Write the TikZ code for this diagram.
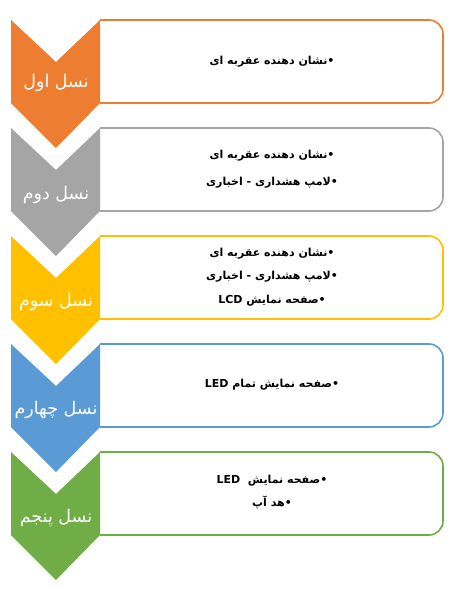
\documentclass[tikz,border=0pt]{standalone}
\usepackage{fontspec}
\newfontfamily\arabicfont[Script=Arabic]{DejaVu Sans}
\TeXXeTstate=1
\definecolor{genorange}{HTML}{ED7D31}
\definecolor{gengray}{HTML}{A5A5A5}
\definecolor{genyellow}{HTML}{FFC000}
\definecolor{genblue}{HTML}{5B9BD5}
\definecolor{gengreen}{HTML}{70AD47}
\begin{document}
\begin{tikzpicture}[x=1pt,y=-1pt,
  genbox/.style={draw=#1,line width=1.6pt,fill=white,rounded corners=14pt},
  genlabel/.style={text=white,font=\arabicfont\fontsize{17.5}{20}\selectfont,inner sep=0pt},
  genlist/.style={align=center,font=\arabicfont\bfseries\fontsize{11}{23.5}\selectfont,inner sep=0pt}]
\useasboundingbox (0,0) rectangle (453,589);
\def\x{11}
% first generation
\def\y{20}
\draw[genbox=genorange] (\x + 89, \y) -- (\x + 432, \y) -- (\x + 432, \y + 83) -- (\x + 89, \y + 83);
\fill[genorange] (\x, \y) -- (\x + 45, \y + 42) -- (\x + 89, \y) -- (\x + 89, \y + 83) -- (\x + 45, \y + 128) -- (\x, \y + 83) -- cycle;
\node[genlabel] (gen1) at (\x + 45, \y + 63) {\beginR نسل اول\endR};
\node[genlist] (list1) at (\x + 261, \y + 42) {\beginR •نشان دهنده عقربه ای\endR};
% second generation
\def\y{128}
\draw[genbox=gengray] (\x + 89, \y) -- (\x + 432, \y) -- (\x + 432, \y + 83) -- (\x + 89, \y + 83);
\fill[gengray] (\x, \y) -- (\x + 45, \y + 42) -- (\x + 89, \y) -- (\x + 89, \y + 83) -- (\x + 45, \y + 128) -- (\x, \y + 83) -- cycle;
\node[genlabel] (gen2) at (\x + 45, \y + 67) {\beginR نسل دوم\endR};
\node[genlist] (list2) at (\x + 261, \y + 41) {\beginR •نشان دهنده عقربه ای\endR\\[4pt]
\beginR •لامپ هشداری - اخباری\endR};
% third generation
\def\y{236}
\draw[genbox=genyellow] (\x + 89, \y) -- (\x + 432, \y) -- (\x + 432, \y + 83) -- (\x + 89, \y + 83);
\fill[genyellow] (\x, \y) -- (\x + 45, \y + 42) -- (\x + 89, \y) -- (\x + 89, \y + 83) -- (\x + 45, \y + 128) -- (\x, \y + 83) -- cycle;
\node[genlabel] (gen3) at (\x + 45, \y + 66) {\beginR نسل سوم\endR};
\node[genlist] (list3) at (\x + 261, \y + 41) {\beginR •نشان دهنده عقربه ای\endR\\
\beginR •لامپ هشداری - اخباری\endR\\
\beginR •صفحه نمایش \beginL LCD\endL\endR};
% fourth generation
\def\y{344}
\draw[genbox=genblue] (\x + 89, \y) -- (\x + 432, \y) -- (\x + 432, \y + 83) -- (\x + 89, \y + 83);
\fill[genblue] (\x, \y) -- (\x + 45, \y + 42) -- (\x + 89, \y) -- (\x + 89, \y + 83) -- (\x + 45, \y + 128) -- (\x, \y + 83) -- cycle;
\node[genlabel] (gen4) at (\x + 45, \y + 66) {\beginR نسل چهارم\endR};
\node[genlist] (list4) at (\x + 261, \y + 41) {\beginR •صفحه نمایش تمام \beginL LED\endL\endR};
% fifth generation
\def\y{452}
\draw[genbox=gengreen] (\x + 89, \y) -- (\x + 432, \y) -- (\x + 432, \y + 83) -- (\x + 89, \y + 83);
\fill[gengreen] (\x, \y) -- (\x + 45, \y + 42) -- (\x + 89, \y) -- (\x + 89, \y + 83) -- (\x + 45, \y + 128) -- (\x, \y + 83) -- cycle;
\node[genlabel] (gen5) at (\x + 45, \y + 66) {\beginR نسل پنجم\endR};
\node[genlist] (list5) at (\x + 261, \y + 40) {\beginR •صفحه نمایش\ \ \beginL LED\endL\endR\\
\beginR •هد آپ\endR};
\end{tikzpicture}
\end{document}
